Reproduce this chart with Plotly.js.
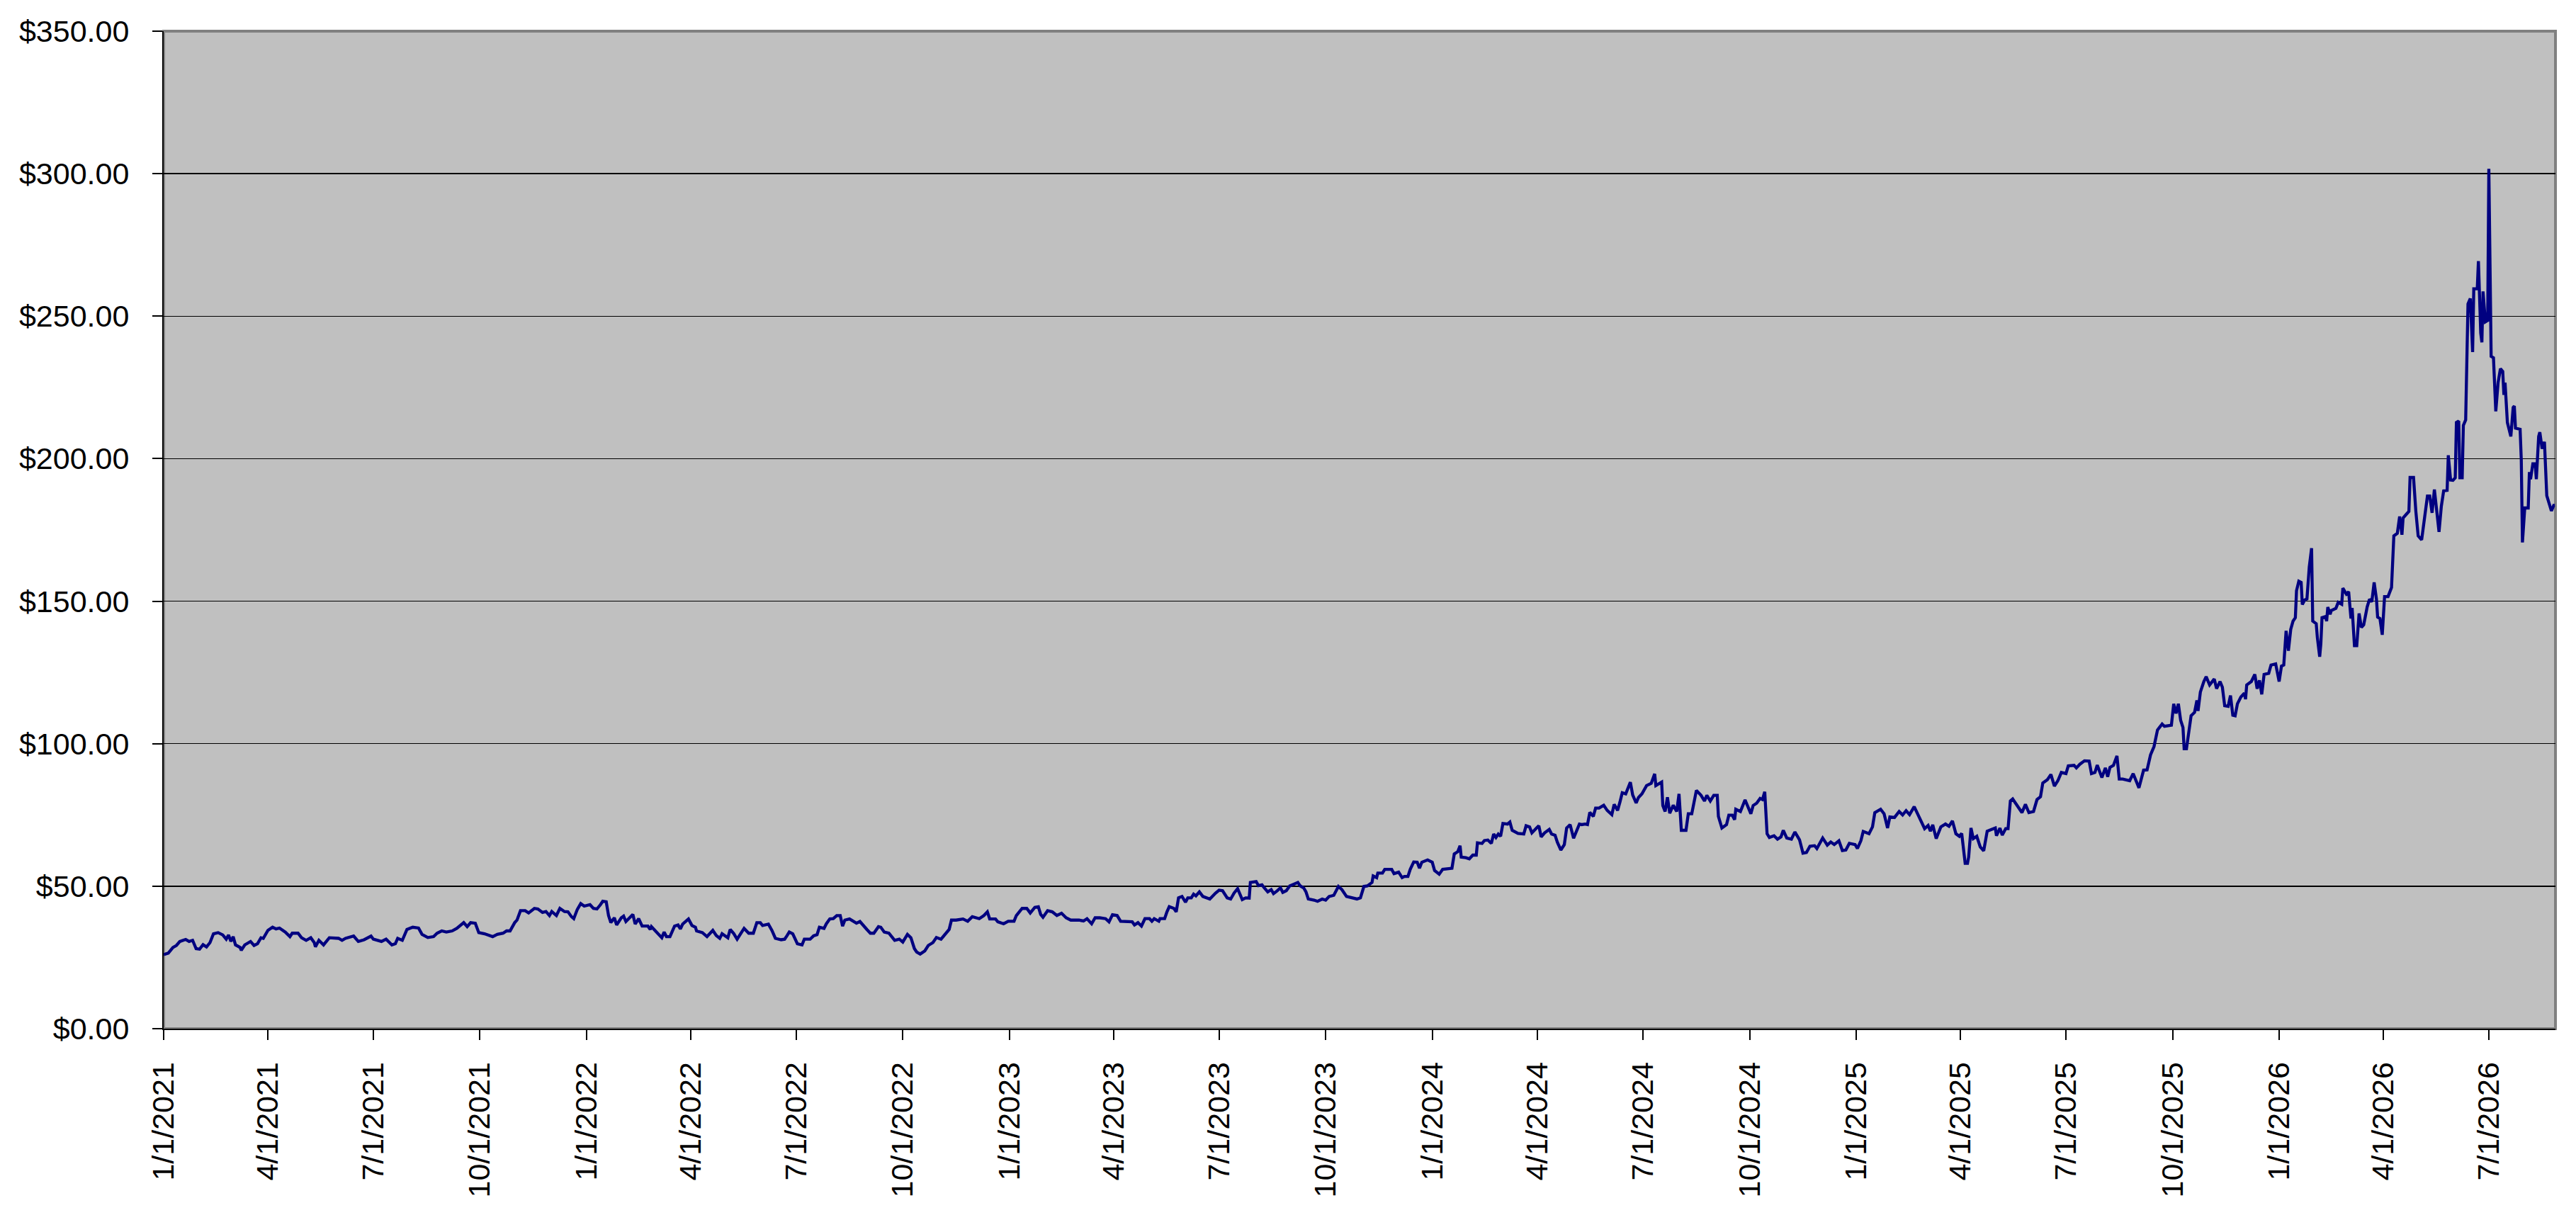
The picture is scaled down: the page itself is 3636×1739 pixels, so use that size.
<!DOCTYPE html>
<html>
<head>
<meta charset="utf-8">
<script src="https://cdn.plot.ly/plotly-3.0.1.min.js"></script>
<style>
  html, body { margin: 0; padding: 0; background: #ffffff; }
  #grafico { width: 3636px; height: 1739px; }
</style>
</head>
<body>
<div id="grafico"></div>
<script>
// fecha de inicio de la serie, los dias se cuentan desde aqui
var fechaInicio = '2021-01-01';

var dias2021 = [0,4,8,11,14,19,22,25,28,31,34,37,40,43,47,51,54,56,58,60,62,66,67,70,75,78,81,84,86,90,94,97,100,105,109,111,116,119,123,127,130,131,134,138,143,151,154,157,164,168,173,179,181,188,192,197,200,202,206,210,215,220,223,228,233,236,240,244,249,253,259,262,265,269,272,277,284,288,293,296,299,303,305,308,312,315,320,323,327,330,333,335,339,342];
var precios2021 = [26.0,26.5,28.5,29.2,30.6,31.3,30.6,31.0,28.1,27.9,29.5,28.7,30.2,33.3,33.7,32.9,31.4,32.9,30.6,32.3,29.4,28.5,27.5,29.4,30.6,29.2,29.8,31.9,31.7,34.5,35.6,35.0,35.3,33.9,32.3,33.5,33.5,31.9,31.0,31.9,30.2,28.7,31.0,29.4,31.9,31.7,31.0,31.7,32.5,30.6,31.2,32.5,31.4,30.6,31.4,29.4,29.8,31.7,31.0,34.8,35.6,35.3,33.1,32.0,32.3,33.5,34.3,33.9,34.3,35.2,37.2,35.8,37.2,37.0,33.7,33.3,32.3,33.1,33.5,34.3,34.3,37.2,38.1,41.4,41.4,40.6,42.2,42.0,40.8,41.1,39.7,41.1,39.7,42.2];

var dias2022 = [346,349,352,354,357,360,363,368,371,374,377,379,382,384,386,389,391,395,397,399,405,407,410,413,418,420,421,425,430,432,434,437,441,444,446,448,453,456,459,460,465,469,474,477,480,482,487,489,492,495,498,501,505,509,512,515,517,522,525,528,533,536,538,540,543,546,547,551,553,558,561,564,566,570,572,575,578,581,584,586,588,592,595,598,601,604,607,610,613,617,619,622,626,631,635,638,642,645,648,650,653,657,660,664,667,671,675,678,680,684];
var precios2022 = [41.1,41.0,39.3,38.6,41.8,43.9,43.0,43.5,42.2,42.0,43.5,44.7,44.5,39.7,37.2,38.9,36.4,38.9,39.5,37.6,40.1,36.7,38.6,36.0,36.0,34.8,35.8,33.9,31.9,33.9,32.3,32.3,36.0,36.4,35.0,36.7,38.5,36.2,35.6,34.3,33.7,32.3,34.5,32.7,31.7,33.3,31.9,34.8,33.4,31.4,33.5,35.2,33.5,33.5,37.2,37.2,36.2,36.7,34.5,31.7,31.2,31.4,32.6,33.9,33.3,31.0,29.8,29.4,31.4,31.4,32.6,33.0,35.6,35.2,36.8,38.5,38.6,39.7,39.7,36.0,38.1,38.5,37.6,37.0,37.6,36.0,34.8,33.5,33.5,35.8,35.6,33.9,33.5,31.0,31.4,30.4,33.1,31.9,28.1,26.9,26.2,27.3,29.2,30.2,32.0,31.4,33.5,34.8,38.1,38.1];

var dias2023 = [690,694,698,704,708,711,713,718,720,725,729,734,736,741,745,748,752,755,757,759,763,767,771,775,779,783,790,794,797,801,804,808,813,816,819,823,826,831,836,838,841,844,847,851,853,855,859,860,864,866,868,872,874,876,879,882,884,887,889,891,894,897,901,903,908,911,914,918,921,924,927,931,934,937,938,943,945,948,950,953,956,958,961,964,966,969,972,975,979,981,984,986,988,993,996,1000,1003,1006,1010,1014,1017,1021,1027];
var precios2023 = [38.5,37.7,39.3,38.6,39.7,41.0,38.5,38.5,37.5,36.8,37.7,37.7,39.7,42.2,42.2,40.6,42.6,42.8,40.1,39.1,41.4,41.0,39.7,40.5,38.9,38.1,38.1,37.8,38.6,36.8,38.9,38.9,38.6,37.5,40.0,39.7,37.7,37.7,37.5,36.4,37.2,36.0,38.6,38.6,37.7,38.6,37.7,38.6,38.6,41.0,42.8,42.2,41.0,45.9,46.4,44.4,45.9,45.9,47.2,46.6,48.0,46.4,45.9,45.5,47.6,48.6,48.4,45.9,45.5,47.6,49.1,45.3,45.9,45.8,51.3,51.6,50.2,50.5,49.4,48.0,48.8,47.4,48.3,49.4,47.8,48.4,50.1,50.7,51.3,50.1,49.4,48.0,45.5,45.1,44.7,45.5,45.1,46.4,46.8,49.9,48.8,46.4,45.9];

var dias2024 = [1030,1033,1036,1039,1043,1044,1047,1048,1052,1054,1060,1062,1066,1069,1071,1074,1076,1079,1082,1084,1086,1091,1095,1097,1101,1104,1112,1114,1117,1119,1120,1124,1127,1130,1133,1134,1138,1140,1143,1146,1148,1150,1152,1154,1156,1160,1162,1164,1167,1169,1174,1176,1179,1181,1185,1187,1189,1192,1196,1198,1201,1203,1206,1209,1211,1214,1217,1220,1222,1224,1227,1229,1231,1234,1236,1239,1243,1246,1250,1252,1255,1257,1259,1262,1266,1268,1271,1273,1276,1280,1284,1287,1288,1293,1294,1296,1298,1300,1303,1306,1308,1310,1314,1316,1319,1321,1323,1327,1330,1332,1335,1338,1341,1342,1345,1349,1351,1354,1356,1357,1361,1365,1370];
var precios2024 = [45.5,45.9,49.9,50.1,51.3,53.6,53.0,54.6,54.6,55.9,55.9,54.4,54.9,53.0,53.4,53.4,55.9,58.5,58.4,56.3,58.4,59.2,58.4,55.5,54.2,55.9,56.3,61.3,62.1,64.2,60.2,60.0,59.6,60.9,60.9,65.2,65.0,66.0,66.2,65.0,68.3,67.1,68.3,67.5,72.0,71.8,72.5,69.6,69.1,68.5,68.3,71.2,70.8,68.7,70.4,71.2,67.3,68.7,69.9,68.3,67.9,65.4,62.7,64.6,70.4,71.6,66.8,69.5,71.8,71.6,71.8,71.6,75.9,74.5,77.4,77.4,78.4,76.6,75.1,78.7,76.6,79.5,82.8,82.4,86.5,82.0,79.2,81.1,82.4,85.3,86.1,89.4,85.3,86.5,78.3,76.2,81.2,75.6,78.4,76.2,82.4,69.6,69.6,75.4,75.4,79.5,83.6,81.9,79.9,81.9,79.9,81.9,81.9,74.5,70.4,71.6,74.9,74.9,73.3,77.0,76.2,80.3,75.4];

var dias2025 = [1372,1375,1378,1380,1382,1384,1386,1390,1393,1396,1398,1401,1405,1408,1412,1415,1418,1421,1425,1427,1432,1436,1439,1442,1446,1449,1452,1455,1460,1462,1465,1467,1472,1475,1477,1482,1485,1488,1490,1494,1498,1501,1504,1507,1511,1514,1517,1520,1523,1525,1527,1530,1534,1538,1541,1544,1547,1550,1552,1555,1557,1558,1560,1562,1565,1568,1571,1574,1577,1581,1582,1585,1587,1590,1592,1594,1596,1599,1604,1607,1610,1614,1617,1620,1622,1626,1629,1632,1635,1638,1642,1644,1649,1651,1654,1658,1662,1664,1667,1669,1673,1676,1678,1680,1683,1686,1688,1691,1697,1700,1702,1705,1709];
var precios2025 = [78.3,79.1,80.8,80.4,83.1,68.4,67.1,67.7,66.5,67.3,69.6,66.9,66.5,69.0,66.3,61.6,61.8,64.0,64.2,63.2,66.9,64.4,65.5,64.6,65.9,62.5,62.7,65.0,64.6,63.2,66.0,69.2,68.4,70.8,75.8,77.0,75.4,70.4,74.3,74.1,76.2,75.0,76.5,75.1,77.9,75.4,72.9,70.2,71.3,69.3,71.5,66.7,70.8,71.8,71.0,72.9,68.4,67.5,68.5,58.0,58.0,60.2,70.4,66.7,67.5,63.8,62.4,69.3,69.8,70.4,67.7,70.4,67.9,70.2,70.2,79.9,80.6,78.7,75.8,78.7,75.8,76.2,80.4,81.4,86.2,87.4,89.2,85.1,87.0,89.9,89.5,92.2,92.4,91.5,92.8,94.0,93.9,89.5,89.9,92.5,88.1,91.5,88.4,91.7,92.4,95.7,87.6,87.6,87.0,89.5,87.4,84.5,90.7];

var dias2026 = [1712,1715,1718,1721,1725,1727,1733,1735,1737,1739,1741,1743,1744,1746,1748,1750,1753,1755,1756,1758,1761,1763,1766,1770,1772,1775,1777,1779,1782,1784,1786,1788,1790,1793,1796,1797,1798,1802,1805,1807,1809,1811,1813,1817,1819,1823,1826,1828,1830,1832,1834,1836,1838,1840,1841,1843,1845,1846,1848,1850,1852,1854,1855,1858,1859,1861,1862,1863,1866,1867,1868,1870,1871,1875,1877,1880,1881,1884,1886,1888,1889,1891,1893,1895,1897,1899,1902,1904,1906,1908,1910,1911,1913,1915,1917,1920,1923,1925,1928,1930,1932,1933,1936,1938,1939,1942,1944,1946,1949,1952,1954,1956,1958,1960,1962,1964,1966,1968,1971,1972,1974,1976,1978,1979,1981,1982,1984,1985,1987,1989,1991,1993,1994,1997,1998,2000,2001,2002,2004,2006,2007,2009,2011,2013,2015,2017,2019,2020,2021,2023,2026,2028,2029,2030,2034,2035,2036,2038,2041,2042,2043,2045,2047,2048,2050,2051,2053,2055,2057,2059,2061,2063,2064];
var precios2026 = [90.8,96.1,99.0,104.8,106.9,106.1,106.5,114.0,110.6,114.0,108.2,105.7,98.2,98.2,104.0,109.8,111.0,115.2,111.5,118.1,121.8,123.5,120.6,122.7,119.3,121.8,119.8,113.3,113.1,116.9,110.0,109.8,114.0,116.4,117.7,115.6,120.6,121.8,124.3,119.3,122.2,117.3,124.3,124.7,127.6,128.0,121.8,127.2,127.6,139.6,132.6,140.1,143.0,144.2,153.7,157.0,156.6,148.8,150.4,150.8,162.0,168.6,143.0,142.1,137.2,130.5,135.1,144.2,144.6,143.0,147.9,145.4,146.7,147.5,149.6,148.9,154.6,152.5,153.3,143.9,147.6,134.4,134.4,145.7,140.8,141.7,148.0,150.7,149.8,156.6,150.7,144.4,143.9,138.2,151.6,151.6,154.8,172.9,173.8,179.7,173.3,179.2,180.6,181.5,193.4,193.4,181.5,172.9,171.5,181.5,186.9,186.9,181.0,189.2,180.6,174.3,183.3,188.7,188.9,201.2,192.5,192.4,193.3,212.7,213.2,193.3,193.3,211.7,213.6,254.3,256.2,237.4,259.6,259.6,269.3,244.1,240.8,258.7,248.0,248.5,301.7,235.9,235.4,216.6,226.7,231.6,230.6,222.4,226.7,212.7,207.8,218.0,218.5,210.7,210.3,199.6,170.6,182.7,182.7,195.3,192.8,198.2,198.2,192.8,207.8,209.3,203.5,205.9,187.0,184.1,181.7,183.6,183.6];

var ticksY = [0, 50, 100, 150, 200, 250, 300, 350];

function aFecha(dia) {
  var base = new Date(fechaInicio + 'T00:00:00Z').getTime();
  return new Date(base + dia * 86400000).toISOString().slice(0, 10);
}

function generarGrafico() {
  var espacio = document.getElementById('grafico');
  var dias = [].concat(dias2021, dias2022, dias2023, dias2024, dias2025, dias2026);
  var precios = [].concat(precios2021, precios2022, precios2023, precios2024, precios2025, precios2026);
  var fechas = dias.map(aFecha);

  var trace1 = {
    x: fechas,
    y: precios,
    type: 'scatter',
    mode: 'lines',
    line: { color: '#000080', width: 4.3 },
    hoverinfo: 'skip'
  };

  var fuente = { family: 'Liberation Sans, Arial, sans-serif', size: 43, color: '#000000' };

  var layout = {
    width: 3636,
    height: 1739,
    margin: { l: 231, r: 29, t: 44, b: 287, pad: 0 },
    paper_bgcolor: '#ffffff',
    plot_bgcolor: '#c0c0c0',
    showlegend: false,
    font: fuente,
    xaxis: {
      type: 'date',
      range: ['2021-01-01', '2026-08-27 12:00'],
      tick0: '2021-01-01',
      dtick: 'M3',
      tickformat: '%-m/%-d/%Y',
      tickangle: -90,
      ticks: 'outside',
      ticklen: 14,
      tickwidth: 2,
      tickcolor: '#000000',
      ticklabelstandoff: 14,
      showgrid: false,
      zeroline: false,
      showline: true,
      linecolor: '#000000',
      linewidth: 2,
      tickfont: fuente
    },
    yaxis: {
      range: [0, 350],
      tickvals: ticksY,
      tickformat: '$,.2f',
      ticks: 'outside',
      ticklen: 14,
      tickwidth: 2,
      tickcolor: '#000000',
      ticklabelstandoff: 24,
      showgrid: true,
      gridcolor: '#000000',
      gridwidth: 1.5,
      zeroline: false,
      showline: true,
      linecolor: '#000000',
      linewidth: 2,
      tickfont: fuente
    },
    shapes: [{
      type: 'rect', xref: 'paper', yref: 'paper',
      x0: 0, x1: 1, y0: 0, y1: 1,
      line: { color: '#808080', width: 4 },
      layer: 'below'
    }]
  };

  Plotly.newPlot(espacio, [trace1], layout, { staticPlot: true });
}

generarGrafico();
</script>
</body>
</html>
